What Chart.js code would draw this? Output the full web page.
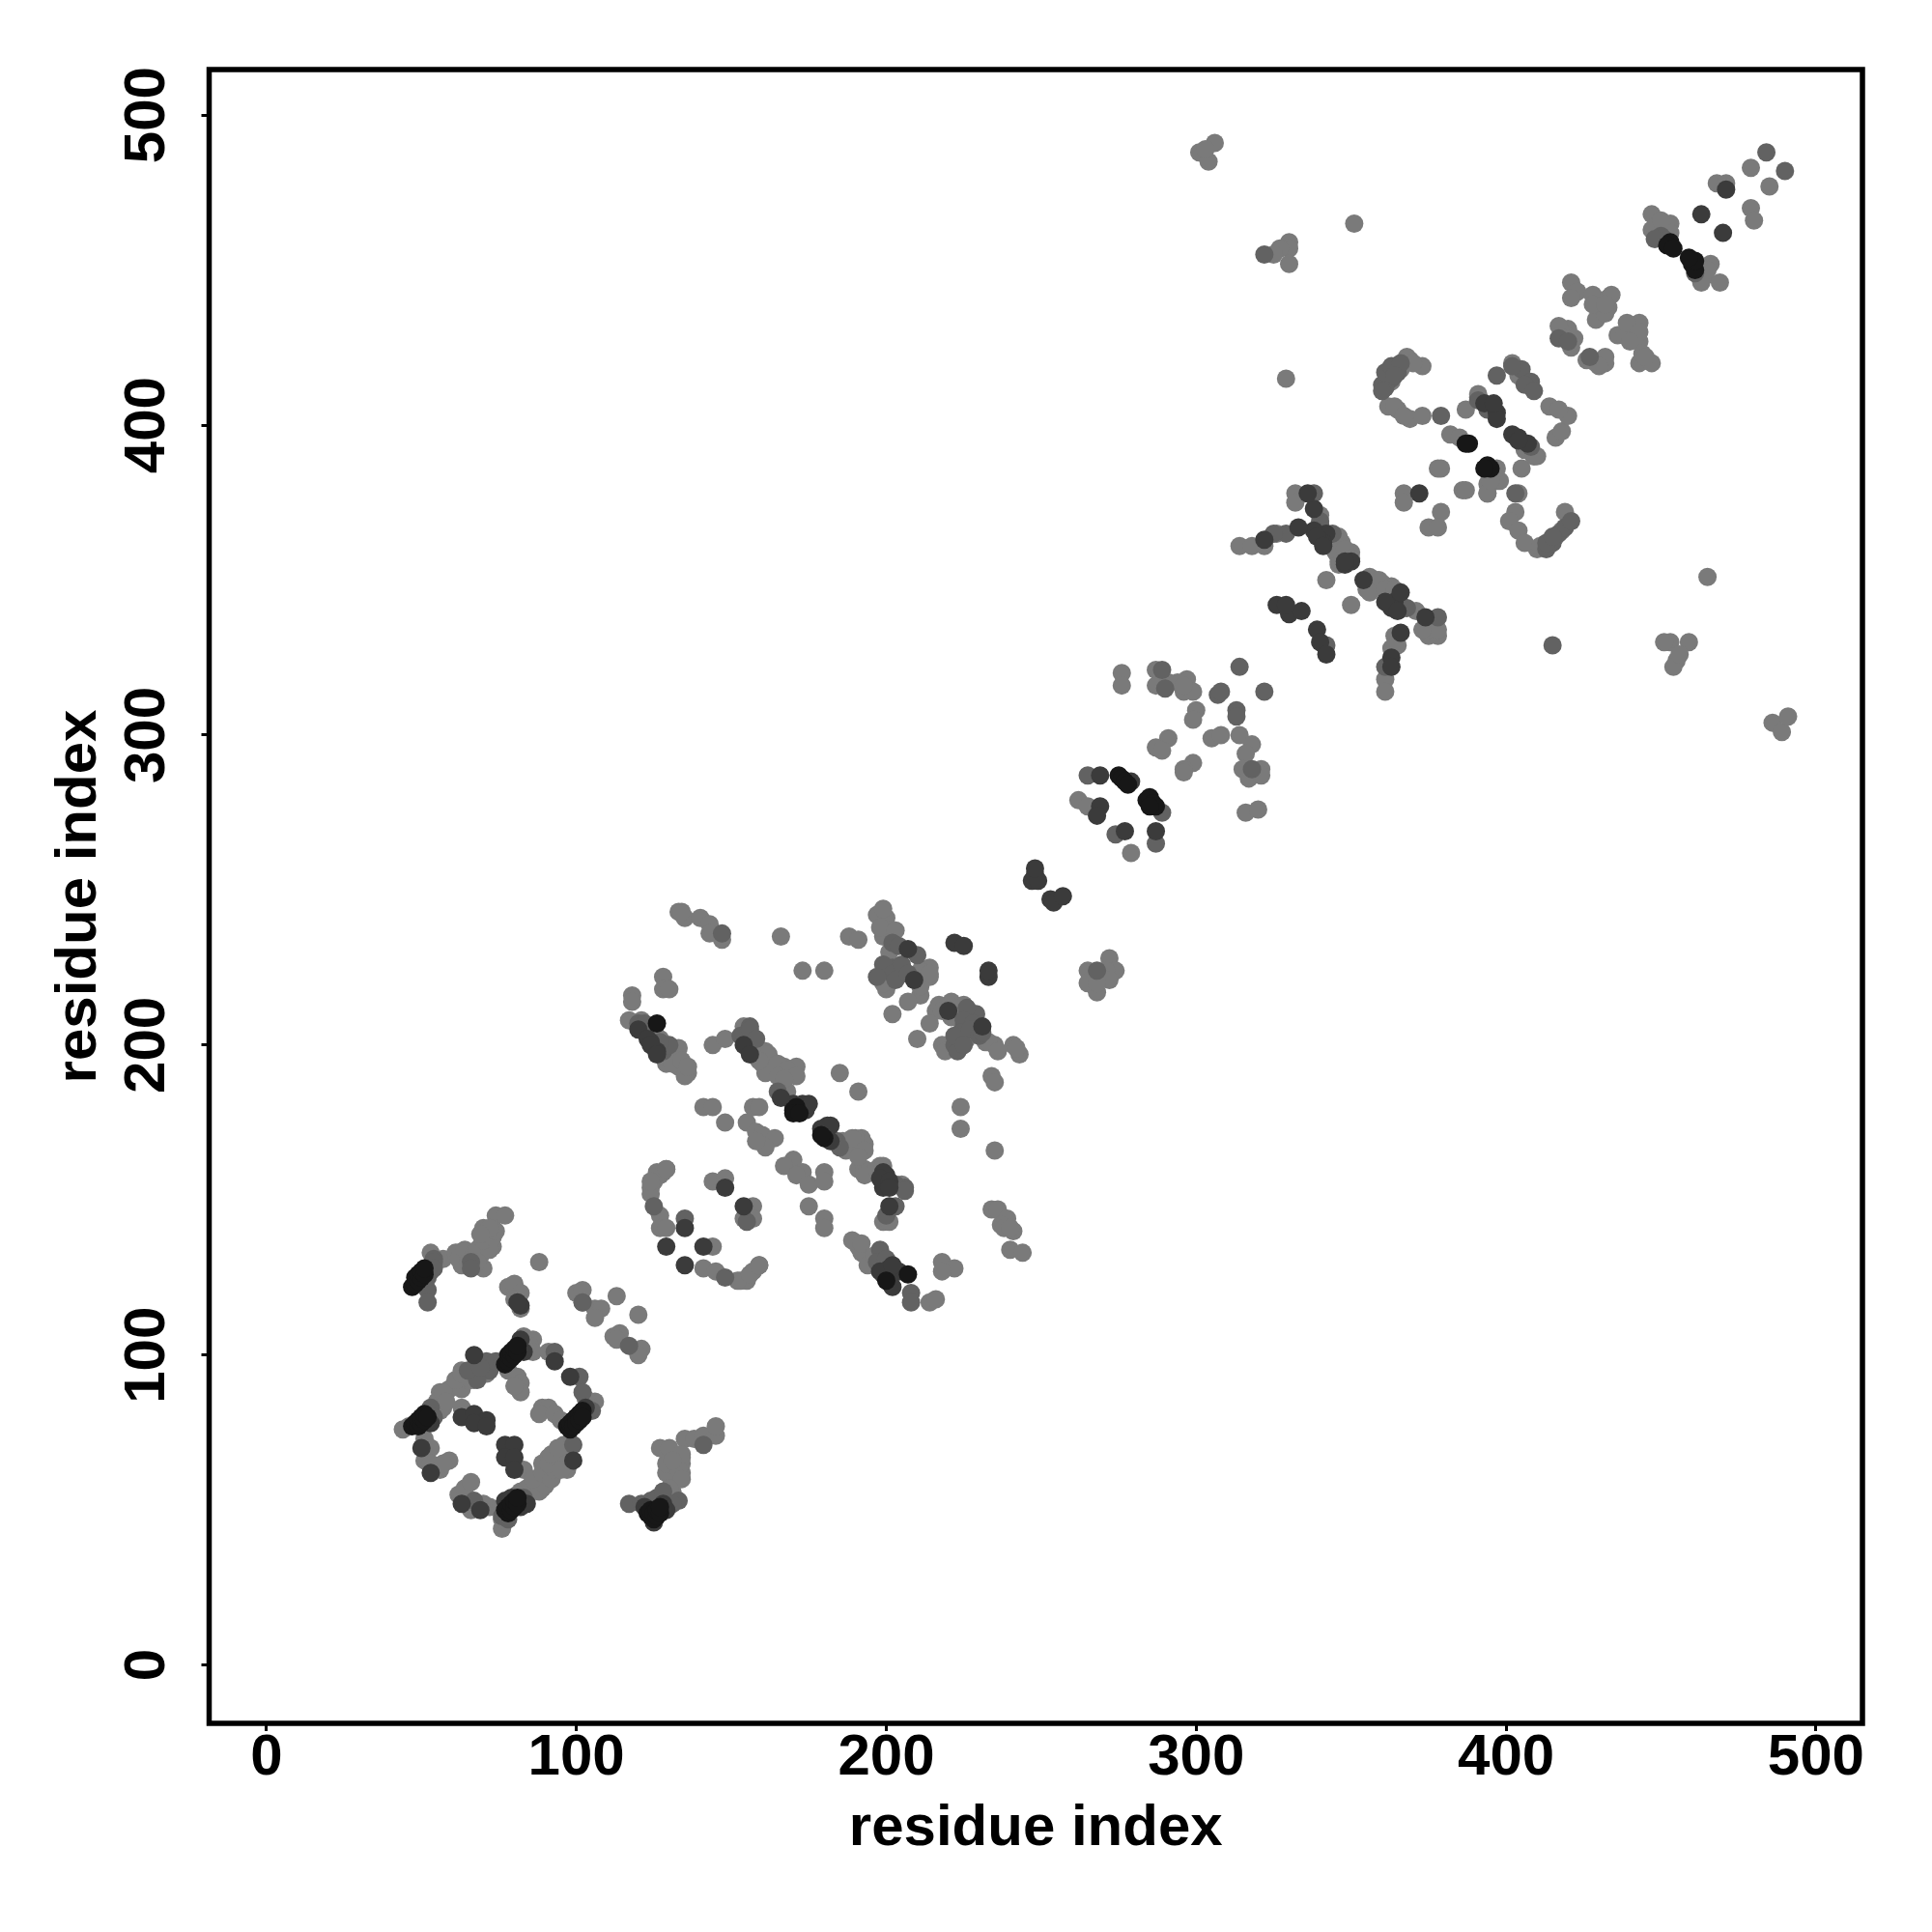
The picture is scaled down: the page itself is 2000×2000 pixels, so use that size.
<!DOCTYPE html>
<html>
<head>
<meta charset="utf-8">
<script src="https://cdn.jsdelivr.net/npm/chart.js@4"></script>
<style>
  body { margin: 0; background: #fff; }
  canvas { display: block; }
</style>
</head>
<body>
<canvas id="grafico" width="2000" height="2000"></canvas>
<script>
const tituloEixo = "residue index";
const ticksEixo = [0, 100, 200, 300, 400, 500];

// contatos por tom de cinza: [residuo x, residuo y]
const contatosEscuros = [
  [47,122],[48,123],[48,125],[49,124],[49,126],[50,125],[50,127],[51,126],[51,128],
  [47,77],[48,78],[49,77],[49,79],[50,78],[50,80],[51,79],[51,81],[52,80],
  [77,97],[78,98],[78,100],[79,99],[79,101],[80,100],[80,102],[81,101],[81,103],
  [97,77],[98,76],[98,78],[99,79],[99,77],[100,80],[100,78],[101,81],[101,79],[102,82],[102,80],
  [77,50],[78,49],[78,51],[79,50],[79,52],[80,51],[80,53],[81,52],[81,54],
  [123,49],[124,48],[124,50],[125,47],[125,49],[126,48],[126,50],[127,49],[127,51],
  [126,207],[170,179],[171,180],[207,126],[170,178],[172,178],[180,170],[179,171],[200,124],
  [275,287],[276,286],[277,285],[278,284],[284,279],[285,280],[286,278],[287,277],[285,277],
  [388,394],[387,394],[394,387],[395,386],[453,459],[452,458],[454,457],[460,452],[461,450],[461,453],[459,454],[393,386]
];
const contatosFortes = [
  [63,80],[67,81],[71,79],[67,78],[71,77],[67,100],[77,71],[80,71],[77,67],[80,67],[80,63],[53,62],[50,70],[53,78],
  [93,98],[98,93],[99,66],[63,52],[69,50],[82,116],[81,117],[83,101],[82,105],[103,83],[77,53],[79,54],[82,51],[84,52],
  [128,52],[122,51],[129,50],[125,46],
  [135,141],[141,135],[135,129],[129,135],[148,154],[154,148],[199,154],[200,158],[201,148],[199,126],[204,127],[201,128],
  [207,231],[231,206],[222,233],[225,232],[233,222],[233,224],[209,221],
  [248,255],[247,253],[249,253],[253,247],[254,246],[257,248],[248,257],
  [120,205],[124,201],[126,198],[123,202],[124,200],[126,197],[170,181],[173,181],[174,180],[181,174],[182,169],
  [154,200],[156,197],[166,183],[174,179],[175,181],[179,173],[182,174],[199,159],[198,157],[201,156],[201,154],
  [198,127],[202,129],[202,122],[220,211],
  [269,287],[279,285],[269,277],[268,274],[277,269],[287,269],
  [338,373],[342,365],[338,366],[341,362],[333,367],[322,363],[350,356],[364,343],[363,341],[374,338],[366,333],
  [339,364],[341,361],[348,355],[354,350],[361,343],[365,340],
  [363,325],[363,322],[330,339],[334,340],[339,334],[340,330],[342,326],[326,342],[329,342],[336,378],[348,356],
  [463,468],[470,462],[471,476],[404,396],[407,394],[397,404],[393,407],[372,378],[366,346],[397,402],[396,407],[402,397],[404,395]
];
const contatosMedios = [
  [52,121],[52,117],[54,131],[66,130],[66,128],[72,95],[68,92],[71,98],[74,98],[76,98],[93,101],[101,93],[102,88],
  [52,128],[53,129],[54,130],[52,125],[53,127],[54,128],[53,83],[54,80],[65,95],[69,96],[76,48],[78,47],[83,54],[105,82],
  [99,71],[67,53],[117,52],[121,52],[133,53],[141,71],[102,117],[117,103],[125,148],[135,144],[148,125],
  [124,53],[126,54],[128,56],[131,52],
  [147,236],[202,233],[202,225],[210,229],[226,210],[229,210],[222,200],[225,206],[223,198],[206,154],[203,148],[203,155],
  [120,207],[122,207],[128,198],[130,200],[127,201],[153,203],[156,206],[165,185],[184,169],[185,167],[206,153],[200,145],
  [199,226],[202,223],[205,226],[203,221],[207,223],[197,222],[204,232],[226,212],[225,208],[228,207],[224,204],[222,203],[227,205],[230,203],[231,204],[225,200],
  [198,134],[197,130],[200,131],
  [208,120],[208,117],[290,315],[289,321],[307,313],[308,314],[313,308],[313,306],[318,289],[289,275],[287,265],
  [340,368],[329,365],[325,365],[338,378],[367,341],[378,338],[361,322],[342,329],[403,378],[415,329],[322,455],
  [340,369],[344,365],[366,342],[368,341],[413,360],[415,362],[417,365],[419,367],
  [451,460],[421,369],[413,362],[415,364],[408,393],[379,403],[484,488],[490,482],[268,224],[365,417],[363,415],
  [361,412],[397,416],[405,418],[408,414],[156,205],[158,202],[155,143],[265,287],[274,268],[314,322],[322,314],
  [360,413],[361,417],[363,419],[366,420],[364,416],[360,411],[402,419],[406,413],[409,411],[391,408],[394,405],
  [417,428],[420,427],[427,422],[450,461],[448,460],[461,449]
];
const contatosClaros = [
  [53,133],[57,131],[62,133],[63,129],[65,133],[70,128],[69,132],[73,135],[70,141],[73,141],[74,145],[77,145],[71,137],[69,135],[88,130],
  [61,133],[62,131],[64,134],[67,133],[68,134],[72,134],[70,137],[73,138],[74,140],[72,141],[69,139],[65,130],[68,130],
  [78,122],[80,123],[82,120],[80,118],[82,115],[100,120],[102,121],[106,115],[108,115],[106,112],[102,117],[113,119],[120,113],
  [114,107],[112,106],[121,102],[120,100],[113,105],
  [44,76],[46,77],[53,81],[54,82],[55,84],[56,88],[59,89],[56,85],[57,83],[63,95],[62,91],[63,89],[71,94],[67,95],[67,92],[65,92],[69,94],
  [55,85],[57,88],[61,92],[63,94],[66,92],[71,95],[56,82],[58,85],
  [83,106],[86,105],[85,103],[86,101],[91,101],[78,95],[81,93],[82,91],[82,88],[80,90],[106,85],[104,84],[103,86],
  [89,83],[91,83],[88,81],[93,81],[95,79],[63,83],[51,73],[53,70],[51,66],[53,65],[56,63],[59,66],[57,65],[83,63],
  [82,56],[84,57],[89,57],[91,62],[94,64],[96,66],[89,65],[91,67],[94,69],[96,71],[97,63],
  [81,55],[84,54],[88,56],[90,58],[86,60],[89,62],[92,60],[93,63],[95,65],[91,65],[92,68],[94,70],[95,63],
  [76,44],[76,47],[72,51],[70,52],[66,50],[62,55],[64,57],[66,59],
  [131,56],[131,60],[129,62],[134,62],[129,65],[127,70],[130,70],[134,65],[134,67],[135,73],[138,73],[141,74],[145,74],[145,77],
  [133,63],[134,68],[131,66],[134,60],[130,57],
  [127,145],[127,141],[129,141],[144,135],[141,128],[145,127],[153,124],[155,124],[157,127],[159,129],[156,147],[155,144],
  [152,124],[156,126],[159,129],
  [124,154],[125,156],[127,158],[129,160],[124,152],[144,156],[148,157],[157,148],[157,144],[154,144],[175,148],[180,144],[180,141],
  [126,159],[128,159],[129,160],[124,156],
  [133,243],[135,241],[134,243],[140,241],[143,239],[143,236],[147,234],[166,235],[188,235],[191,234],[173,224],[180,224],
  [128,222],[128,218],[130,218],[118,216],[118,214],[117,208],[121,208],[123,204],[127,202],[129,199],[133,199],[129,194],[133,193],[136,191],[135,190],
  [129,196],[131,194],[134,195],[136,193],
  [144,200],[148,202],[154,206],[156,203],[161,198],[160,194],[161,191],[167,193],[171,193],[168,190],[167,186],[168,185],
  [158,200],[162,197],[159,195],[165,194],[168,192],[165,190],[171,190],[167,189],
  [186,169],[188,167],[192,170],[193,168],[190,170],[191,160],[193,160],[198,161],[199,143],[201,143],[185,191],[191,185],
  [187,166],[189,170],[193,166],[191,164],[193,158],[197,160],[199,161],[205,155],
  [141,180],[144,180],[148,175],[157,180],[159,180],[155,175],[158,172],[160,171],[164,170],[161,167],[158,169],
  [170,163],[167,161],[173,159],[171,158],[175,155],[180,159],[180,156],[224,180],[224,173],[235,166],[234,190],[235,188],
  [197,242],[200,241],[199,235],[198,222],[200,218],[205,223],[214,225],[214,222],[211,216],[207,214],[202,210],[210,202],
  [211,224],[211,219],[214,223],[199,220],[201,237],[198,238],[199,244],[203,237],[201,230],
  [216,211],[214,207],[221,214],[225,213],[221,209],[226,206],[218,200],[219,198],[226,202],[232,201],[235,200],[241,200],[243,197],
  [222,212],[233,201],[236,198],[242,199],[217,213],[218,211],
  [191,135],[192,133],[194,129],[198,133],[214,117],[216,118],[218,130],[222,128],[218,127],[189,137],[192,136],[196,132],
  [234,147],[236,147],[239,144],[237,142],[241,140],[240,134],[244,133],[238,141],[240,141],
  [272,228],[265,224],[274,224],[271,224],[265,220],[268,217],[272,221],[268,220],
  [276,320],[276,316],[287,321],[287,316],[291,317],[294,317],[297,318],[296,314],[299,314],[296,316],[300,308],[299,305],
  [305,299],[308,300],[291,299],[287,296],[289,295],[299,291],[296,289],[296,288],[314,300],[318,297],[316,294],[315,289],[321,289],[317,286],[321,287],[316,275],[320,276],
  [262,279],[265,277],[279,262],[314,361],[318,361],[322,361],[326,365],
  [332,378],[332,375],[340,371],[346,364],[347,360],[350,359],[346,356],[342,350],[350,342],
  [347,362],[345,359],[348,360],[350,357],[346,355],[355,347],[358,350],[360,349],[355,349],[363,348],
  [356,351],[359,350],[356,346],[361,347],[364,347],[371,340],[378,332],[375,332],[375,336],[364,332],[365,329],[363,328],[361,318],[361,314],
  [375,334],[378,334],[373,334],[410,360],
  [367,378],[367,375],[378,386],[379,372],[375,367],[378,367],[386,379],[397,382],[394,381],[394,378],[405,386],[409,390],
  [403,372],[401,369],[404,366],[406,362],[411,361],[416,364],[418,366],[419,372],
  [351,465],[330,459],[330,457],[327,457],[325,455],[330,452],[329,415],
  [369,421],[373,419],[366,418],[362,406],[365,405],[369,402],[373,403],[368,422],[370,420],[363,414],[364,406],[367,403],
  [402,420],[387,405],[391,409],[382,397],[385,396],[410,390],[416,396],[418,398],[420,403],[414,406],[417,405],[379,386],[398,382],[394,378],[387,379],[404,378],
  [404,416],[391,410],[406,392],[409,390],[397,386],[395,382],
  [421,446],[423,443],[421,441],[428,442],[433,441],[430,437],[429,434],[433,438],[440,432],[443,433],[436,429],[443,427],[443,420],[447,420],[444,423],
  [420,431],[419,429],[422,428],[421,425],[429,420],[432,420],[426,421],
  [417,432],[419,428],[432,422],[430,419],[438,429],[439,433],[443,430],[440,427],[445,422],[432,436],[428,439],[434,442],[432,439],
  [447,468],[447,463],[453,465],[466,452],[464,448],[469,446],[468,478],[471,478],[479,470],[480,466],[479,483],[485,477],
  [448,464],[453,462],[450,466],[463,451],[463,446],[465,450],
  [301,488],[306,491],[304,485],[303,489],[465,351],[453,330],[459,330],[455,324],[454,322],[456,326],[451,330],[486,304],[489,301],[491,306]
];

const limitesX = [-18.5, 515];
const limitesY = [-18.8, 514.7];
const fonte = '"Liberation Sans", Arial, sans-serif';

function pontos(lista) {
  return lista.map((p) => ({ x: p[0], y: p[1] }));
}

function serie(nome, lista, cor, ordem) {
  return {
    label: nome,
    data: pontos(lista),
    backgroundColor: cor,
    borderWidth: 0,
    pointRadius: 9.5,
    pointHoverRadius: 9.5,
    order: ordem,
  };
}

function usarTicks(escala) {
  escala.ticks = ticksEixo.map((v) => ({ value: v }));
}

const moldura = {
  id: "moldura",
  afterDraw(chart) {
    const { ctx, chartArea: a } = chart;
    ctx.save();
    ctx.strokeStyle = "#000";
    ctx.lineWidth = 5.5;
    ctx.strokeRect(a.left, a.top, a.right - a.left, a.bottom - a.top);
    ctx.restore();
  },
};

new Chart(document.getElementById("grafico"), {
  type: "scatter",
  data: {
    datasets: [
      serie("escuros", contatosEscuros, "#171717", 1),
      serie("fortes", contatosFortes, "#3b3b3b", 2),
      serie("medios", contatosMedios, "#626262", 3),
      serie("claros", contatosClaros, "#7a7a7a", 4),
    ],
  },
  plugins: [moldura],
  options: {
    responsive: false,
    animation: false,
    layout: { padding: { left: 0, top: 72, right: 72, bottom: 0 } },
    plugins: { legend: { display: false }, tooltip: { enabled: false } },
    scales: {
      x: {
        type: "linear",
        min: limitesX[0],
        max: limitesX[1],
        afterBuildTicks: usarTicks,
        afterFit: (e) => { e.height = 216; },
        border: { display: false },
        grid: { drawOnChartArea: false, color: "#000", lineWidth: 3, tickLength: 8, tickColor: "#000", tickWidth: 3 },
        ticks: {
          color: "#000",
          padding: -8,
          maxRotation: 0,
          autoSkip: false,
          font: { family: fonte, size: 60, weight: "bold" },
          callback: (v) => String(v),
        },
        title: {
          display: true,
          text: tituloEixo,
          color: "#000",
          padding: { top: 0, bottom: 71 },
          font: { family: fonte, size: 60, weight: "bold" },
        },
      },
      y: {
        type: "linear",
        min: limitesY[0],
        max: limitesY[1],
        afterBuildTicks: usarTicks,
        afterFit: (e) => { e.width = 216.5; },
        border: { display: false },
        grid: { drawOnChartArea: false, color: "#000", lineWidth: 3, tickLength: 8, tickColor: "#000", tickWidth: 3 },
        ticks: {
          color: "#000",
          padding: 5,
          minRotation: 90,
          maxRotation: 90,
          crossAlign: "center",
          autoSkip: false,
          font: { family: fonte, size: 60, weight: "bold" },
          callback: (v) => String(v),
        },
        title: {
          display: true,
          text: tituloEixo,
          color: "#000",
          padding: { top: 46, bottom: 0 },
          font: { family: fonte, size: 60, weight: "bold" },
        },
      },
    },
  },
});
</script>
</body>
</html>
